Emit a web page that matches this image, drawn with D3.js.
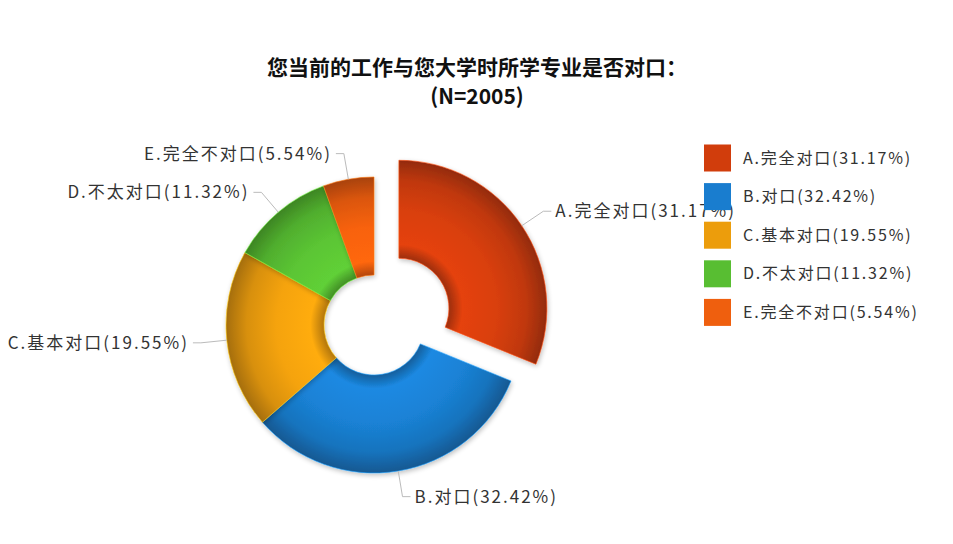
<!DOCTYPE html>
<html>
<head>
<meta charset="utf-8">
<script src="https://cdn.jsdelivr.net/npm/d3@7"></script>
<style>
  body { margin: 0; background: #fff; }
  svg { display: block; font-family: "Noto Sans CJK SC", "Noto Sans", sans-serif; }
</style>
</head>
<body>
<svg id="chart" width="953" height="544"></svg>
<script>
// chart data
const categories = ["A.完全对口", "B.对口", "C.基本对口", "D.不太对口", "E.完全不对口"];
const shares = [31.17, 32.42, 19.55, 11.32, 5.54];
const colors = ["#d93f0c", "#1a82d6", "#f5a30c", "#5bc534", "#f8620f"];
const titleLines = ["您当前的工作与您大学时所学专业是否对口：", "(N=2005)"];
const explodedIndex = 0;

const svg = d3.select("#chart");
const cx = 374, cy = 325;
const outerR = 148, innerR = 50, explode = 30;

// title
svg.append("g")
    .selectAll("text")
    .data(titleLines)
    .join("text")
      .attr("x", 477)
      .attr("y", (d, i) => 75 + i * 29)
      .attr("text-anchor", "middle")
      .attr("font-size", "21px")
      .attr("font-weight", "bold")
      .attr("fill", "#111")
      .text(d => d);

const items = categories.map((c, i) => ({name: c, value: shares[i], color: colors[i], idx: i}));

const pie = d3.pie().sort(null).value(d => d.value);
const arcs = pie(items);
const arc = d3.arc().innerRadius(innerR).outerRadius(outerR);

// offset of each slice (only A is pulled out)
const offsetOf = (a) => {
  if (a.data.idx !== explodedIndex) return [0, 0];
  const m = (a.startAngle + a.endAngle) / 2;
  return [Math.sin(m) * explode, -Math.cos(m) * explode];
};

// radial gradients give the ring its rounded look
const defs = svg.append("defs");
arcs.forEach(a => {
  const base = d3.color(a.data.color);
  const g = defs.append("radialGradient")
      .attr("id", "grad" + a.data.idx)
      .attr("gradientUnits", "userSpaceOnUse")
      .attr("cx", 0).attr("cy", 0).attr("r", outerR);
  const stops = [
    [innerR / outerR, base.darker(0.9)],
    [0.43, base.brighter(0.15)],
    [0.66, base],
    [0.86, base.darker(0.35)],
    [1.0, base.darker(1.1)]
  ];
  stops.forEach(s => g.append("stop")
      .attr("offset", s[0])
      .attr("stop-color", s[1].formatHex()));
});

const shadow = defs.append("filter").attr("id", "soft")
    .attr("x", "-20%").attr("y", "-20%").attr("width", "140%").attr("height", "140%");
shadow.append("feGaussianBlur").attr("in", "SourceAlpha").attr("stdDeviation", 2.5);
shadow.append("feOffset").attr("dx", 1).attr("dy", 2).attr("result", "b");
shadow.append("feComponentTransfer").append("feFuncA").attr("type", "linear").attr("slope", 0.25);
const merge = shadow.append("feMerge");
merge.append("feMergeNode");
merge.append("feMergeNode").attr("in", "SourceGraphic");

const pieG = svg.append("g").attr("transform", `translate(${cx},${cy})`);

pieG.selectAll("g.slice")
    .data(arcs)
    .join("g")
      .attr("class", "slice")
      .attr("transform", d => `translate(${offsetOf(d)[0]},${offsetOf(d)[1]})`)
    .append("path")
      .attr("d", arc)
      .attr("fill", d => `url(#grad${d.data.idx})`)
      .attr("stroke", d => d3.color(d.data.color).brighter(0.6).formatHex())
      .attr("stroke-width", 0.6)
      .attr("filter", "url(#soft)");

// labels with leader lines
const labelG = pieG.append("g");
arcs.forEach(a => {
  const m = (a.startAngle + a.endAngle) / 2;
  const off = offsetOf(a);
  const ux = Math.sin(m), uy = -Math.cos(m);
  const p0 = [off[0] + ux * outerR, off[1] + uy * outerR];
  const p1 = [p0[0] + ux * 26, p0[1] + uy * 26];
  const right = ux > 0;
  const p2 = [p1[0] + (right ? 8 : -8), p1[1]];
  labelG.append("polyline")
      .attr("points", [p0, p1, p2].map(p => p.join(",")).join(" "))
      .attr("fill", "none")
      .attr("stroke", "#bbb")
      .attr("stroke-width", 1);
  labelG.append("text")
      .attr("x", p2[0] + (right ? 4 : -4))
      .attr("y", p2[1])
      .attr("dy", "0.35em")
      .attr("text-anchor", right ? "start" : "end")
      .attr("font-size", "17px")
      .attr("letter-spacing", "2px")
      .attr("fill", "#333")
      .text(`${a.data.name}(${a.data.value.toFixed(2)}%)`);
});

// legend
const legend = svg.append("g").attr("transform", "translate(704,158)");
const rows = legend.selectAll("g")
    .data(items)
    .join("g")
      .attr("transform", (d, i) => `translate(0,${i * 38.6})`);
rows.append("rect")
    .attr("x", 0).attr("y", -13.5)
    .attr("width", 27).attr("height", 27)
    .attr("fill", d => d3.color(d.color).darker(0.1).formatHex());
rows.append("text")
    .attr("x", 39)
    .attr("dy", "0.35em")
    .attr("font-size", "16px")
    .attr("letter-spacing", "1.8px")
    .attr("fill", "#333")
    .text(d => `${d.name}(${d.value.toFixed(2)}%)`);
</script>
</body>
</html>
